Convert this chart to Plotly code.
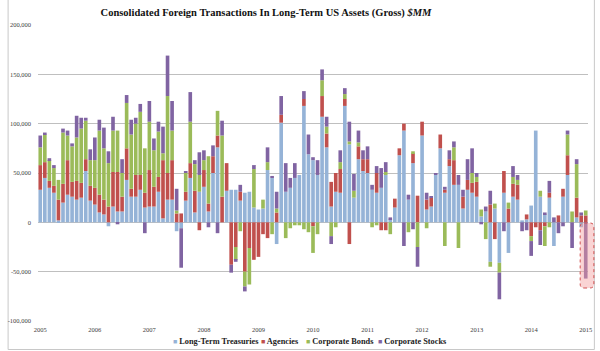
import plotly.graph_objects as go

# ---- data (values in $MM), monthly Jan 2005 .. Jan 2015 ----
year_labels = ["2005", "2006", "2007", "2008", "2009", "2010", "2011", "2012", "2013", "2014", "2015"]

treasuries = [
    33000, 45000, 35000, 30000, 2000, 20000, 28000, 26000, 23000, 25000, 52000, 22000,
    18000, 10000, 8000, -4000, 16000, 11000, 11000, 43000, 26000, 26000, 33000, 15000,
    16000, 16000, 31000, 4000, 23000, 23000, -9000, -6000, 22000, 45000, 10000, 31000,
    36000, 11000, 50000, 76000, 0, 32000, 33000, 33000, 22000, 30000, 31000, 15000,
    13000, 14000, 53000, 45000, -22000, 101000, 31000, 35000, 45000, 48000, 118000, 69000,
    63000, 48000, 107000, 76000, 16000, 31000, 30000, 118000, 79000, 25000, 64000, 52000,
    50000, 33000, 30000, 35000, 48000, 3000, 15000, 68000, 93000, 23000, 60000, 0,
    88000, 13000, 16000, 48000, 75000, 30000, 57000, 38000, 38000, 14000, 33000, 30000,
    26000, 6000, 11000, -40000, 14000, -41000, 30000, -31000, 26000, 23000, 2000, 3000,
    17000, 93000, 26000, 8000, 25000, -24000, 0, 26000, 48000, 0, 5000, -5000,
    0,
]
agencies = [
    25000, 16000, 7000, 7000, 21000, 19000, 35000, 15000, 19000, 15000, 12000, 15000,
    17000, 18000, 15000, 16000, 35000, 40000, 15000, 32000, 8000, 22000, 15000, 15000,
    37000, 20000, 15000, 59000, 27000, 40000, 9000, 9000, 9000, 15000, 22000, -8000,
    17000, 8000, 17000, 12000, 26000, 28000, -43000, -25000, 9000, -50000, -26000, -38000,
    -35000, -12000, -16000, 0, 10000, 8000, 0, 0, 0, 0, 7000, 0,
    -4000, 0, 21000, 14000, 25000, 19000, 24000, 7000, -22000, 0, 13000, 12000,
    14000, 0, 20000, -8000, -8000, 0, 9000, 7000, 7000, 0, 10000, 27000,
    14000, 10000, 9000, 0, 14000, 3000, 7000, 25000, 0, 12000, 10000, 10000,
    15000, 0, 0, 18000, -17000, 0, 22000, 14000, 13000, 15000, 0, 5000,
    -14000, -5000, -8000, -4000, 5000, 0, 7000, 8000, 20000, 0, 20000, 7000,
    7000,
]
corporate_bonds = [
    18000, 28000, 21000, 18000, 20000, 52000, 25000, 36000, 44000, 55000, 39000, 26000,
    28000, 65000, 52000, 44000, 42000, 42000, 24000, 46000, 55000, 52000, 64000, 45000,
    49000, 37000, 46000, 7000, 78000, 30000, 3000, 0, 19000, 42000, 27000, 17000,
    10000, 48000, 0, 25000, 62000, 0, 0, -13000, -9000, -15000, -37000, 39000,
    0, 9000, 8000, -12000, 4000, 0, -16000, -6000, -3000, -3000, -7000, -10000,
    -27000, -12000, 16000, 7000, -14000, -5000, 7000, 5000, 3000, 7000, 4000, 0,
    0, -5000, -3000, 0, 3000, -12000, 0, 0, 0, -10000, 2000, -25000,
    0, -6000, 0, 0, 0, -24000, 0, 13000, -26000, 0, 0, 10000,
    5000, 7000, -17000, -5000, 5000, -10000, 0, 6000, 7000, 5000, 0, 0,
    -5000, 0, 6000, -20000, -5000, 0, 0, 0, 21000, 11000, 34000, 0,
    5000,
]
corporate_stocks = [
    12000, 2000, 2000, 3000, 0, 4000, 5000, 3000, 22000, 11000, 3000, 11000,
    23000, 11000, 21000, 12000, 14000, -2000, 14000, 8000, 15000, 6000, 8000, -11000,
    21000, 12000, 10000, 27000, 41000, 30000, 22000, -40000, 2000, 30000, 4000, 23000,
    10000, -5000, 11000, -11000, 15000, 0, -8000, -2000, 7000, -5000, 0, 4000,
    0, 0, 15000, 2000, 17000, 19000, 29000, 10000, 15000, 0, 8000, 20000,
    3000, 15000, 11000, 10000, -8000, 0, 12000, 6000, 20000, 17000, 12000, 9000,
    13000, 5000, 7000, 20000, 10000, 2000, 0, 0, -24000, 5000, -7000, -20000,
    0, 7000, 1000, 1000, 0, 3000, 9000, 6000, 10000, 7000, 21000, 25000,
    4000, -2000, 5000, 14000, 0, -27000, -9000, 0, 11000, 5000, -9000, -8000,
    -15000, 0, -15000, 2000, 12000, 5000, -11000, -4000, 4000, -26000, 5000, 3000,
    -57000,
]

series = [
    ("Long-Term Treasuries", treasuries, "#95B3D7"),
    ("Agencies", agencies, "#C0504D"),
    ("Corporate Bonds", corporate_bonds, "#9BBB59"),
    ("Corporate Stocks", corporate_stocks, "#8064A2"),
]

y_tick_vals = [-100000, -50000, 0, 50000, 100000, 150000, 200000]
y_tick_text = ["-100,000", "-50,000", "0", "50,000", "100,000", "150,000", "200,000"]

# ---- figure ----
W, H = 600, 351
L, R, T, B = 31, 8, 25, 30
PW, PH = W - L - R, H - T - B

def px_x(p):
    return (p - L) / PW

def px_y(p):
    return 1 - (p - T) / PH

n = len(treasuries)
months = list(range(n))

fig = go.Figure()
for name, vals, col in series:
    fig.add_trace(go.Bar(x=months, y=vals, name=name, marker_color=col,
                         marker_line_width=0, showlegend=False))

serif = "Liberation Serif, Times New Roman, serif"

fig.update_layout(
    width=W, height=H,
    margin=dict(l=L, r=R, t=T, b=B, pad=0),
    paper_bgcolor="white", plot_bgcolor="white",
    barmode="relative", bargap=0.2,
    font=dict(family=serif, color="#404040"),
    title=dict(
        text="<b>Consolidated Foreign Transactions In Long-Term US Assets (Gross) <i>$MM</i></b>",
        font=dict(family=serif, size=10.5, color="#111111"),
        xref="container", yref="container",
        x=266 / W, xanchor="center", y=1 - 12 / H, yanchor="middle",
    ),
    xaxis=dict(
        range=[-0.5, n - 0.5],
        tickmode="array",
        tickvals=[12 * k for k in range(len(year_labels))],
        ticktext=year_labels,
        showgrid=False, zeroline=False, showline=False, ticks="",
        tickfont=dict(family=serif, size=6.5, color="#404040"),
        ticklabelstandoff=3,
    ),
    yaxis=dict(
        range=[-100000, 200000],
        tickmode="array", tickvals=y_tick_vals, ticktext=y_tick_text,
        showgrid=True, gridcolor="#BFBFBF", gridwidth=1,
        zeroline=False, showline=False, ticks="",
        tickfont=dict(family=serif, size=6.5, color="#404040"),
        ticklabelstandoff=6,
    ),
)

# legend drawn as text annotations (small square keys like the original)
legend_pos = [166.5, 256.5, 302, 375.5]
for (name, _, col), lx in zip(series, legend_pos):
    fig.add_annotation(
        xref="paper", yref="paper", x=px_x(lx), y=px_y(341),
        xanchor="left", yanchor="middle", showarrow=False,
        text=f"<span style='color:{col};font-size:7px'>■</span><b> {name}</b>",
        font=dict(family=serif, size=8.3, color="#222222"),
    )

# highlight box around the last bar
x0, x1 = px_x(584), px_x(598)
y0, y1 = px_y(288), px_y(223)
rx, ry = 4 / PW, 4 / PH
path = (f"M {x0+rx},{y0} L {x1-rx},{y0} Q {x1},{y0} {x1},{y0+ry} "
        f"L {x1},{y1-ry} Q {x1},{y1} {x1-rx},{y1} L {x0+rx},{y1} "
        f"Q {x0},{y1} {x0},{y1-ry} L {x0},{y0+ry} Q {x0},{y0} {x0+rx},{y0} Z")
fig.add_shape(type="path", xref="paper", yref="paper", path=path,
              fillcolor="rgba(245,160,160,0.45)",
              line=dict(color="#D05050", width=1, dash="dot"), layer="above")

# thin frame around the chart
bx0, bx1 = px_x(0.5), px_x(598.5)
by0, by1 = px_y(349.5), px_y(0)
fig.add_shape(type="path", xref="paper", yref="paper",
              path=f"M {bx0},{by1} L {bx0},{by0} L {bx1},{by0} L {bx1},{by1}",
              line=dict(color="#C8C8C8", width=1), layer="below")

fig.write_html("out.html")
